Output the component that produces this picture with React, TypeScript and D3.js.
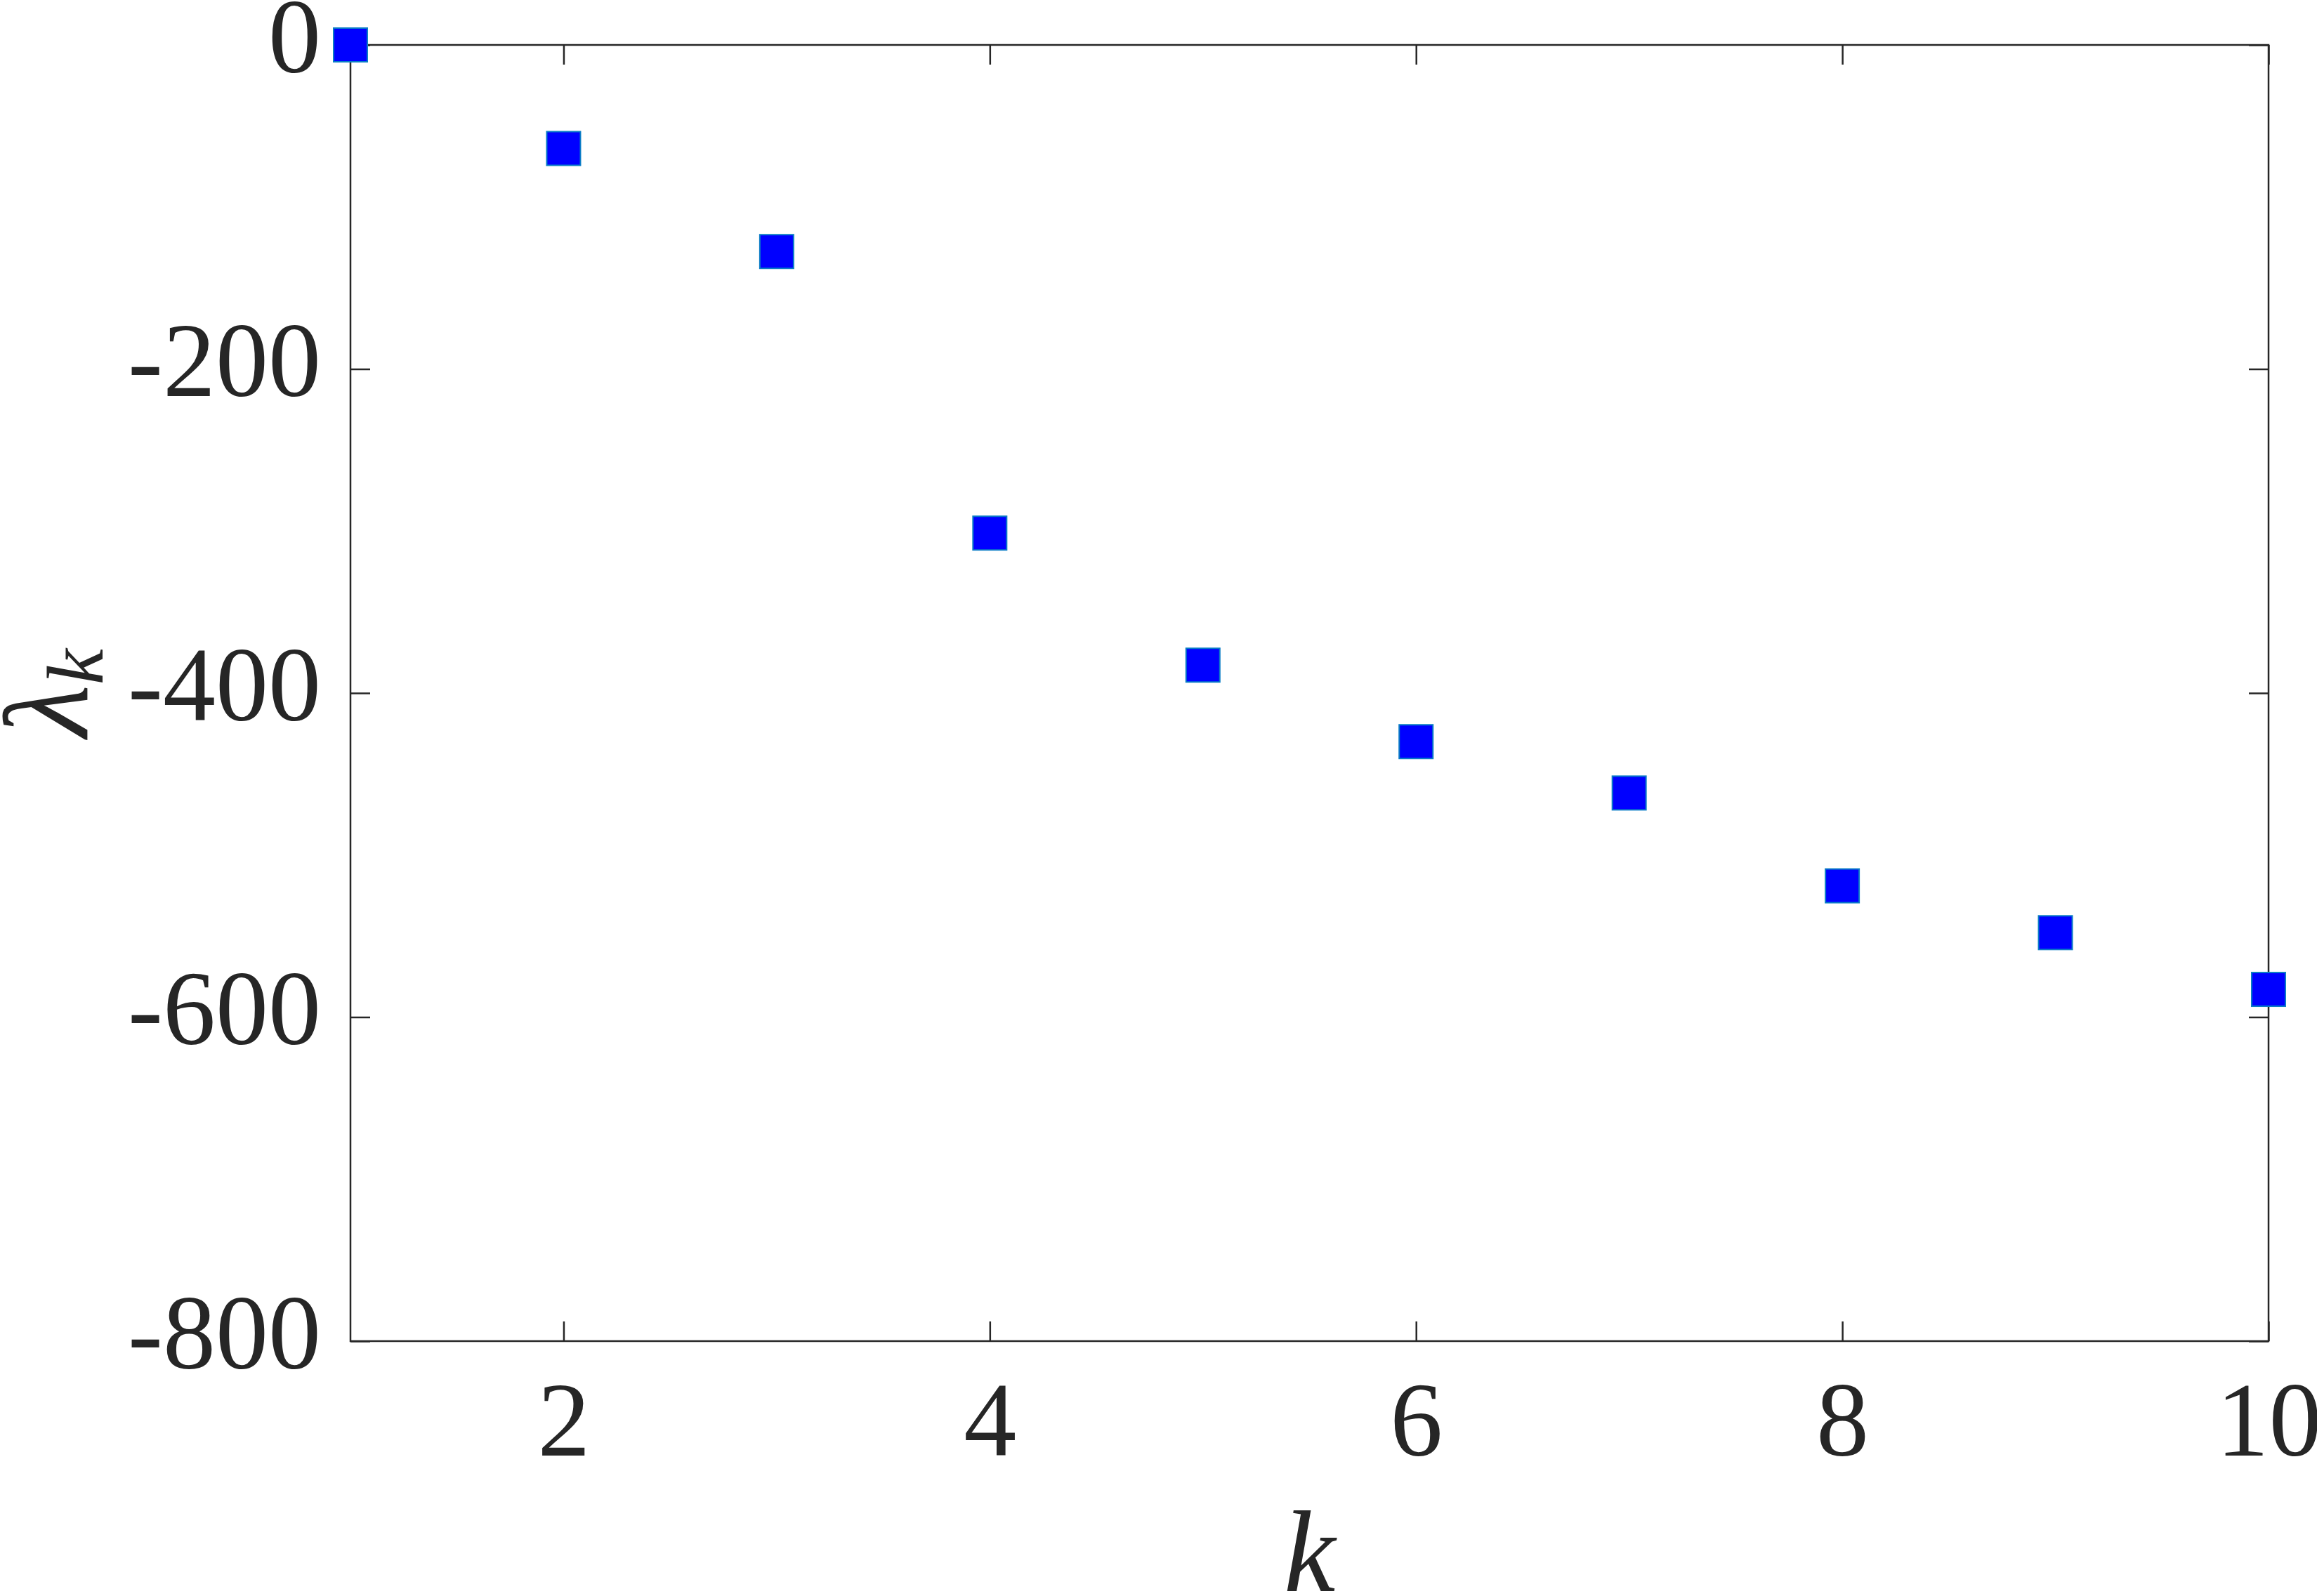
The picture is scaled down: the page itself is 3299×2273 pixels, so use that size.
import React, { useEffect, useRef } from "react";
import { select, scaleLinear, axisBottom, axisLeft, axisTop, axisRight } from "d3";

// eigenvalue index and value
const kValues = [1, 2, 3, 4, 5, 6, 7, 8, 9, 10];
const lambdaValues = [0, -63.9, -127.5, -301.3, -382.8, -430.0, -461.7, -519.0, -547.9, -582.9];

const xTicks = [2, 4, 6, 8, 10];
const yTicks = [0, -200, -400, -600, -800];

const width = 3299;
const height = 2273;
const margin = { top: 64, right: 69, bottom: 363, left: 499 };

const axisColor = "#262626";
const fontFamily = "'Liberation Serif', 'DejaVu Serif', serif";

function App() {
  const svgRef = useRef(null);

  useEffect(() => {
    const svg = select(svgRef.current);
    svg.selectAll("*").remove();

    const innerW = width - margin.left - margin.right;
    const innerH = height - margin.top - margin.bottom;

    //scales
    const xScale = scaleLinear().domain([1, 10]).range([0, innerW]);
    const yScale = scaleLinear().domain([-800, 0]).range([innerH, 0]);

    const g = svg.append("g").attr("transform", `translate(${margin.left},${margin.top})`);

    const styleAxis = (sel, showLabels) => {
      sel.select(".domain").remove();
      sel.selectAll(".tick line").attr("stroke", axisColor).attr("stroke-width", 2.5);
      sel.selectAll(".tick text")
        .attr("fill", axisColor)
        .attr("font-family", fontFamily)
        .attr("font-size", 150)
        .style("display", showLabels ? null : "none");
    };

    //axis lines (ticks pointing inward)
    const bottom = g.append("g")
      .attr("transform", `translate(0,${innerH})`)
      .call(axisBottom(xScale).tickValues(xTicks).tickSize(-28).tickPadding(0).tickFormat(d => d));
    styleAxis(bottom, true);
    bottom.selectAll(".tick text").attr("dy", 0).attr("y", 163);

    const top = g.append("g")
      .call(axisTop(xScale).tickValues(xTicks).tickSize(-28));
    styleAxis(top, false);

    const left = g.append("g")
      .call(axisLeft(yScale).tickValues(yTicks).tickSize(-28).tickPadding(0).tickFormat(d => (d < 0 ? "-" + Math.abs(d) : d)));
    styleAxis(left, true);
    left.selectAll(".tick text").attr("x", -42).attr("dy", 38);

    const right = g.append("g")
      .attr("transform", `translate(${innerW},0)`)
      .call(axisRight(yScale).tickValues(yTicks).tickSize(-28));
    styleAxis(right, false);

    //box
    g.append("rect")
      .attr("x", 0)
      .attr("y", 0)
      .attr("width", innerW)
      .attr("height", innerH)
      .attr("fill", "none")
      .attr("stroke", axisColor)
      .attr("stroke-width", 2.5);

    //labels
    svg.append("text")
      .attr("x", margin.left + innerW / 2)
      .attr("y", 2266)
      .attr("text-anchor", "middle")
      .attr("font-family", fontFamily)
      .attr("font-style", "italic")
      .attr("font-size", 165)
      .attr("fill", axisColor)
      .text("k");

    const yLabel = svg.append("text")
      .attr("transform", `translate(124,${margin.top + innerH / 2}) rotate(-90)`)
      .attr("text-anchor", "middle")
      .attr("font-family", fontFamily)
      .attr("font-style", "italic")
      .attr("font-size", 172)
      .attr("fill", axisColor);
    yLabel.append("tspan").text("λ");
    yLabel.append("tspan").attr("font-size", 115).attr("dy", 22).text("k");

    //markers
    const size = 48;
    g.selectAll("rect.pt")
      .data(kValues.map((k, i) => ({ k, v: lambdaValues[i] })))
      .join("rect")
      .attr("class", "pt")
      .attr("x", d => xScale(d.k) - size / 2)
      .attr("y", d => yScale(d.v) - size / 2)
      .attr("width", size)
      .attr("height", size)
      .attr("fill", "#0000ff")
      .attr("stroke", "#0a7cc6")
      .attr("stroke-width", 2);
  }, []);

  return (
    <svg
      ref={svgRef}
      width={width}
      height={height}
      style={{ position: "absolute", left: 0, top: 0, background: "white" }}
    />
  );
}

export default App;
